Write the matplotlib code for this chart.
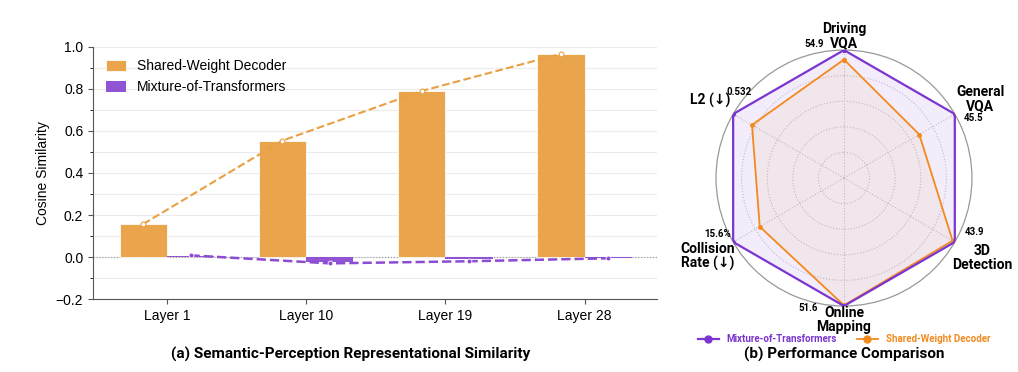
import matplotlib.pyplot as plt
import numpy as np

plt.rcParams['font.family'] = ['Liberation Sans', 'DejaVu Sans']

# left panel data
layers = ['Layer 1', 'Layer 10', 'Layer 19', 'Layer 28']
shared_sim = [0.157, 0.554, 0.79, 0.967]
mot_sim = [0.006, -0.025, -0.009, -0.003]
mot_trend = [0.008, -0.03, -0.02, -0.006]

# right panel data (normalised scores, MoT = 1)
tasks = ['Driving\nVQA', 'General\nVQA', '3D\nDetection', 'Online\nMapping',
         'Collision\nRate (↓)', 'L2 (↓)']
mot_score = [1.0, 1.0, 1.0, 1.0, 1.0, 1.0]
shared_score = [0.926, 0.68, 0.98, 0.995, 0.76, 0.83]
value_labels = ['54.9', '45.5', '43.9', '51.6', '15.6%', '0.532']

orange = '#E9A042'
purple = '#8B4BD2'
r_purple = '#7B35D0'
r_orange = '#F28A1E'
bold_font = ['Roboto', 'DejaVu Sans']

fig = plt.figure(figsize=(10.18, 3.72), dpi=100)

# ---- (a) bars ----
ax = fig.add_axes([0.0914, 0.196, 0.554, 0.678])
x = np.arange(len(layers))
w = 0.34
ax.bar(x - w/2, shared_sim, w, color=orange, alpha=0.95, edgecolor='white',
       linewidth=0.6, label='Shared-Weight Decoder', zorder=2)
ax.bar(x + w/2, mot_sim, w, color=purple, alpha=0.95, linewidth=0,
       label='Mixture-of-Transformers', zorder=2)
ax.plot(x - w/2, shared_sim, '--', color=orange, lw=1.5, marker='o', ms=3.5,
        mfc='white', mec=orange, mew=0.8, zorder=3)
ax.plot(x + w/2, mot_trend, '--', color=purple, lw=1.8, marker='o', ms=3.5,
        mfc=purple, mec='white', mew=0.6, zorder=3)
ax.axhline(0, color='#999999', lw=0.8, ls=':', zorder=1)

ax.set_xlim(-0.53, 3.52)
ax.set_ylim(-0.2, 1.0)
ax.set_yticks(np.arange(-0.2, 1.01, 0.2))
ax.set_yticks(np.arange(-0.2, 1.01, 0.1), minor=True)
ax.yaxis.set_major_formatter(plt.FuncFormatter(lambda v, p: f'{v:.1f}'.replace('-', '\u2212')))
ax.set_xticks(x)
ax.set_xticklabels(layers)
ax.grid(axis='y', which='both', color='#ebebeb', lw=0.8, zorder=0)
ax.set_axisbelow(True)
for s in ['top', 'right']:
    ax.spines[s].set_visible(False)
for s in ['left', 'bottom']:
    ax.spines[s].set_color('#555555')
ax.tick_params(labelsize=10, color='#555555')
ax.set_ylabel('Cosine Similarity', fontsize=10)
ax.legend(loc='upper left', frameon=False, fontsize=10,
          handlelength=1.45, handleheight=0.8, bbox_to_anchor=(0.0, 1.0))
fig.text(0.344, 0.048, '(a) Semantic-Perception Representational Similarity',
         ha='center', va='center', fontsize=11, fontweight='bold',
         family=bold_font)

# ---- (b) radar ----
rx = fig.add_axes([0.7033, 0.1774, 0.2515, 0.688], projection='polar')
n = len(tasks)
ang = np.arange(n) * 2 * np.pi / n
rx.set_theta_offset(np.pi / 2)
rx.set_theta_direction(-1)
ang_c = np.append(ang, ang[0])
mot_c = np.append(mot_score, mot_score[0])
sh_c = np.append(shared_score, shared_score[0])

rx.fill(ang_c, mot_c, color=r_purple, alpha=0.09, zorder=2)
rx.fill(ang_c, sh_c, color=r_orange, alpha=0.06, zorder=2)
rx.plot(ang_c, mot_c, color=r_purple, lw=1.6, marker='o', ms=2.5,
        label='Mixture-of-Transformers', zorder=4)
rx.plot(ang_c, sh_c, color=r_orange, lw=1.3, marker='o', ms=2.5,
        label='Shared-Weight Decoder', zorder=3)

rx.set_ylim(0, 1.0)
rx.set_yticks([0.2, 0.4, 0.6, 0.8])
rx.set_yticklabels([])
rx.set_xticks(ang)
rx.set_xticklabels([])
rx.grid(color='#c8c8c8', lw=0.8, ls=':')
rx.spines['polar'].set_color('#999999')
rx.spines['polar'].set_linewidth(0.9)

label_r = [1.11, 1.23, 1.25, 1.11, 1.23, 1.21]
for a, t, r in zip(ang, tasks, label_r):
    rx.text(a, r, t, ha='center', va='center', fontsize=10,
            fontweight='bold', linespacing=1.0, family=bold_font)

offsets = [(-30, 6, 'center'), (9, -4, 'left'), (10, 10, 'left'),
           (-36, -2, 'center'), (-2, 8, 'right'), (6, 22, 'center')]
for a, r, v, (dx, dy, h) in zip(ang, mot_score, value_labels, offsets):
    rx.annotate(v, (a, r), xytext=(dx, dy), textcoords='offset pixels',
                ha=h, va='center', fontsize=7, fontweight='bold',
                family=bold_font)

lg = rx.legend(loc='center', bbox_to_anchor=(0.5, -0.13), ncol=2,
               frameon=False, handlelength=2.2, columnspacing=2.0,
               prop={'weight': 'bold', 'size': 7, 'family': bold_font})
for txt, c in zip(lg.get_texts(), [r_purple, r_orange]):
    txt.set_color(c)
for h in lg.legend_handles:
    h.set_markersize(5)
fig.text(0.829, 0.048, '(b) Performance Comparison', ha='center', va='center',
         fontsize=11, fontweight='bold', family=bold_font)

fig.savefig('out.png', dpi=100)
